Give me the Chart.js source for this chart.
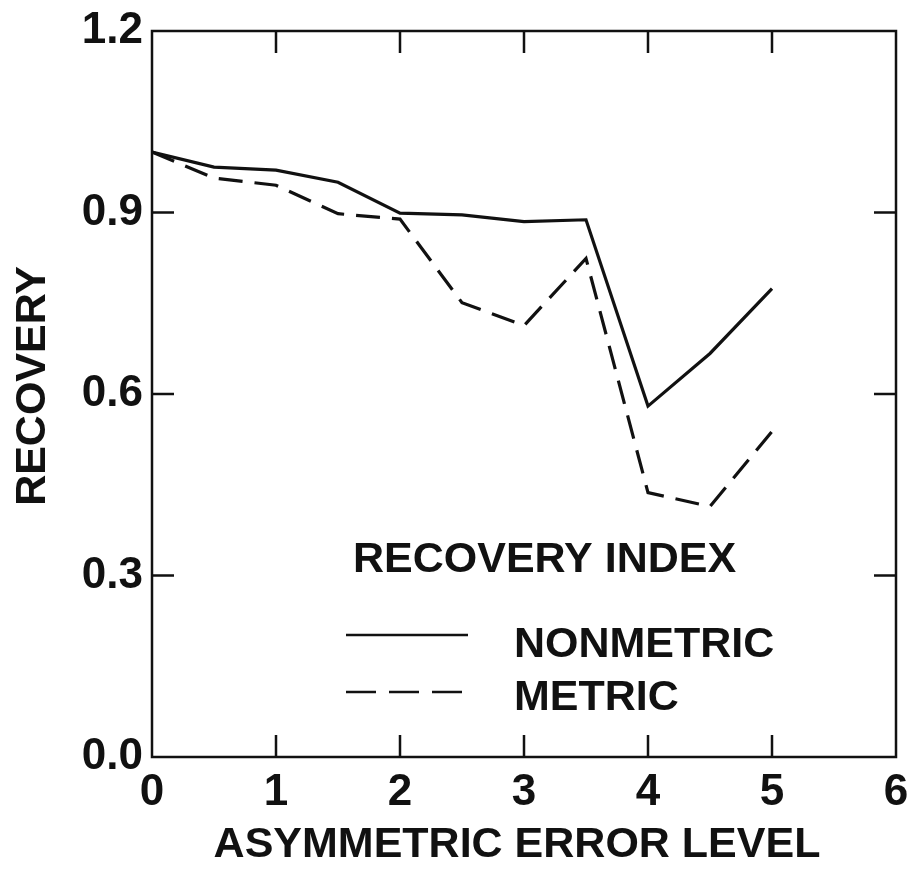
<!DOCTYPE html>
<html>
<head>
<meta charset="utf-8">
<script src="https://cdn.jsdelivr.net/npm/chart.js@4.4.1/dist/chart.umd.min.js"></script>
<style>
	html, body { margin: 0; padding: 0; background: #fff; overflow: hidden; }
	canvas { display: block; }
</style>
</head>
<body>
<canvas id="chart" width="908" height="871"></canvas>
<script>
const errorLevels = [0, 0.5, 1, 1.5, 2, 2.5, 3, 3.5, 4, 4.5, 5];
const nonmetric = [1.0, 0.975, 0.97, 0.95, 0.899, 0.896, 0.885, 0.888, 0.58, 0.667, 0.774];
const metric = [1.0, 0.957, 0.945, 0.898, 0.889, 0.751, 0.713, 0.824, 0.437, 0.414, 0.538];
const xTicks = [0, 1, 2, 3, 4, 5, 6];
const yTicks = [0.0, 0.3, 0.6, 0.9, 1.2];

const FONT = "'Liberation Sans', Arial, sans-serif";
const INK = "#111";

function toPoints (xs, ys) {
	return xs.map((x, i) => ({ x: x, y: ys[i] }));
}

// frame + inward ticks on all four sides, axis titles, legend
const decor = {
	id: "decor",
	afterDraw (chart) {
		const ctx = chart.ctx;
		const a = chart.chartArea;
		const xs = chart.scales.x;
		const ys = chart.scales.y;
		const tick = 22;
		ctx.save();
		ctx.strokeStyle = INK;
		ctx.lineWidth = 2.5;
		ctx.strokeRect(a.left, a.top, a.right - a.left, a.bottom - a.top);
		ctx.beginPath();
		xTicks.slice(1, -1).forEach((v) => {
			const px = xs.getPixelForValue(v);
			ctx.moveTo(px, a.bottom);
			ctx.lineTo(px, a.bottom - tick);
			ctx.moveTo(px, a.top);
			ctx.lineTo(px, a.top + tick);
		});
		yTicks.slice(1, -1).forEach((v) => {
			const py = ys.getPixelForValue(v);
			ctx.moveTo(a.left, py);
			ctx.lineTo(a.left + tick, py);
			ctx.moveTo(a.right, py);
			ctx.lineTo(a.right - tick, py);
		});
		ctx.stroke();

		// axis titles
		ctx.fillStyle = INK;
		ctx.font = `bold 43px ${FONT}`;
		ctx.textAlign = "center";
		ctx.textBaseline = "middle";
		ctx.fillText("ASYMMETRIC ERROR LEVEL", 517, 845);
		ctx.save();
		ctx.translate(33, 386);
		ctx.rotate(-Math.PI / 2);
		ctx.fillText("RECOVERY", 0, 0);
		ctx.restore();

		// legend
		ctx.textAlign = "left";
		ctx.fillText("RECOVERY INDEX", 353, 560);
		ctx.fillText("NONMETRIC", 514, 645);
		ctx.fillText("METRIC", 514, 698);
		ctx.lineWidth = 2.5;
		ctx.beginPath();
		ctx.moveTo(346, 635);
		ctx.lineTo(468, 635);
		ctx.stroke();
		ctx.setLineDash([30, 13]);
		ctx.beginPath();
		ctx.moveTo(346, 692);
		ctx.lineTo(468, 692);
		ctx.stroke();
		ctx.restore();
	}
};

new Chart(document.getElementById("chart"), {
	type: "line",
	data: {
		datasets: [
			{
				label: "NONMETRIC",
				data: toPoints(errorLevels, nonmetric),
				borderColor: INK,
				borderWidth: 3.2,
				pointRadius: 0,
				tension: 0
			},
			{
				label: "METRIC",
				data: toPoints(errorLevels, metric),
				borderColor: INK,
				borderWidth: 3.2,
				borderDash: [24, 12],
				pointRadius: 0,
				tension: 0
			}
		]
	},
	options: {
		responsive: false,
		animation: false,
		layout: { padding: { top: 31, right: 12, left: 0, bottom: 0 } },
		plugins: {
			legend: { display: false },
			tooltip: { enabled: false }
		},
		scales: {
			x: {
				type: "linear",
				min: 0,
				max: 6,
				afterBuildTicks: (scale) => { scale.ticks = xTicks.map((v) => ({ value: v })); },
				afterFit: (scale) => {
					scale.height = 871 - 757;
					scale.paddingLeft = 0;
					scale.paddingRight = 0;
				},
				grid: { display: false, drawTicks: false },
				border: { display: false },
				ticks: {
					color: INK,
					padding: 9,
					maxRotation: 0,
					font: { family: FONT, size: 44, weight: "bold" },
					callback: (v) => String(v)
				}
			},
			y: {
				type: "linear",
				min: 0,
				max: 1.2,
				afterBuildTicks: (scale) => { scale.ticks = yTicks.map((v) => ({ value: v })); },
				afterFit: (scale) => {
					scale.width = 152;
					scale.paddingTop = 0;
					scale.paddingBottom = 0;
				},
				grid: { display: false, drawTicks: false },
				border: { display: false },
				ticks: {
					color: INK,
					padding: 9,
					font: { family: FONT, size: 44, weight: "bold" },
					callback: (v) => v.toFixed(1)
				}
			}
		}
	},
	plugins: [decor]
});
</script>
</body>
</html>
